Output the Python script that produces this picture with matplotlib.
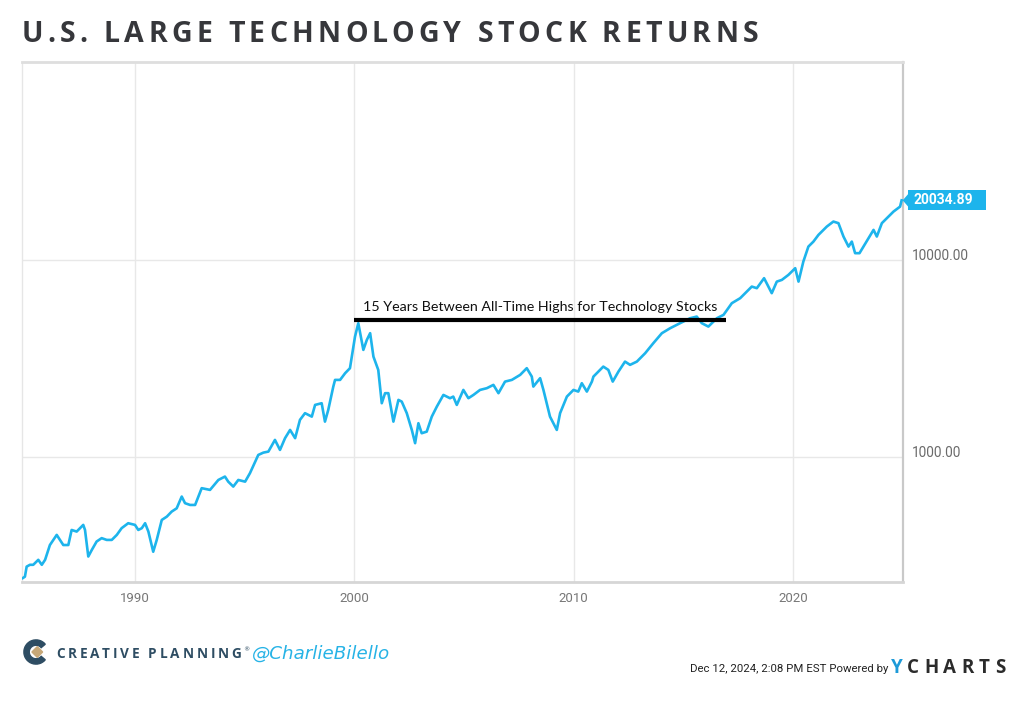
import matplotlib
matplotlib.use("Agg")
import matplotlib.pyplot as plt
import matplotlib.transforms as mtransforms
from matplotlib.font_manager import FontProperties
from matplotlib.patches import Wedge, Polygon, Rectangle
from matplotlib.ticker import NullLocator, FixedFormatter

# ---------------- data ----------------
title = "U.S. LARGE TECHNOLOGY STOCK RETURNS"

years = [1984.88, 1984.98, 1985.06, 1985.21, 1985.36, 1985.59, 1985.75, 1985.90, 1986.12, 1986.43,
         1986.58, 1986.73, 1986.96, 1987.11, 1987.34, 1987.64, 1987.72, 1987.87, 1988.03, 1988.25,
         1988.48, 1988.71, 1988.94, 1989.17, 1989.39, 1989.69, 1990.00, 1990.15, 1990.31, 1990.46,
         1990.61, 1990.83, 1990.99, 1991.22, 1991.45, 1991.67, 1991.90, 1992.13, 1992.28, 1992.51,
         1992.74, 1993.04, 1993.42, 1993.80, 1994.10, 1994.25, 1994.48, 1994.71, 1995.02, 1995.24,
         1995.62, 1995.85, 1996.08, 1996.38, 1996.61, 1996.84, 1997.07, 1997.30, 1997.52, 1997.75,
         1998.06, 1998.21, 1998.51, 1998.66, 1998.81, 1999.04, 1999.12, 1999.35, 1999.58, 1999.80,
         2000.03, 2000.18, 2000.41, 2000.57, 2000.72, 2000.87, 2001.09, 2001.25, 2001.40, 2001.55,
         2001.78, 2002.01, 2002.16, 2002.39, 2002.62, 2002.77, 2002.92, 2003.07, 2003.30, 2003.53,
         2003.76, 2004.06, 2004.36, 2004.51, 2004.67, 2004.97, 2005.20, 2005.43, 2005.73, 2006.04,
         2006.34, 2006.57, 2006.87, 2007.18, 2007.56, 2007.86, 2008.09, 2008.16, 2008.47, 2008.62,
         2008.92, 2009.23, 2009.38, 2009.69, 2009.99, 2010.21, 2010.37, 2010.60, 2010.83, 2010.90,
         2011.35, 2011.58, 2011.78, 2012.04, 2012.34, 2012.57, 2012.88, 2013.26, 2013.63, 2014.02,
         2014.40, 2014.85, 2015.31, 2015.61, 2015.84, 2016.14, 2016.53, 2016.83, 2017.21, 2017.59,
         2018.12, 2018.35, 2018.68, 2019.03, 2019.26, 2019.49, 2019.79, 2020.10, 2020.25, 2020.47,
         2020.70, 2020.93, 2021.16, 2021.54, 2021.84, 2022.07, 2022.30, 2022.53, 2022.68, 2022.83,
         2023.03, 2023.21, 2023.67, 2023.82, 2024.05, 2024.28, 2024.58, 2024.88, 2024.95]

values = [244, 248, 279, 285, 285, 302, 285, 302, 359, 404,
          381, 359, 359, 428, 420, 454, 428, 314, 339, 374,
          389, 381, 381, 404, 437, 463, 454, 428, 437, 463,
          420, 332, 381, 481, 500, 530, 551, 632, 585, 573,
          573, 697, 683, 767, 798, 752, 710, 767, 752, 830,
          1027, 1055, 1068, 1224, 1089, 1249, 1375, 1249, 1546, 1672,
          1606, 1841, 1878, 1515, 1737, 2280, 2465, 2465, 2666, 2826,
          4087, 4778, 3499, 3932, 4251, 3235, 2770, 1878, 2111, 2111,
          1515, 1952, 1914, 1672, 1375, 1178, 1487, 1323, 1348, 1606,
          1805, 2069, 1991, 2029, 1841, 2193, 1991, 2069, 2193, 2238,
          2326, 2111, 2417, 2465, 2614, 2826, 2562, 2280, 2515, 2193,
          1606, 1375, 1672, 2029, 2193, 2151, 2372, 2151, 2417, 2562,
          2879, 2770, 2417, 2716, 3052, 2938, 3052, 3367, 3783, 4251,
          4507, 4778, 5064, 5160, 4778, 4592, 5064, 5264, 6034, 6395,
          7323, 7187, 8078, 6781, 7762, 7917, 8395, 9077, 7762, 9804,
          11678, 12380, 13390, 14750, 15640, 15350, 13130, 11678, 12380, 10815,
          10815, 11678, 14190, 13130, 15350, 16270, 17570, 18620, 20034.89]

last_value = 20034.89
ann_text = "15 Years Between All-Time Highs for Technology Stocks"
ann_start = 2000.0
ann_end = 2016.94
ann_level = 4950

xticks = [1990, 2000, 2010, 2020]
xticklabels = ["1990", "2000", "2010", "2020"]
yticks = [1000, 10000]
yticklabels = ["1000.00", "10000.00"]

footer_date = "Dec 12, 2024, 2:08 PM EST Powered by"
brand = "CREATIVE PLANNING"
handle = "@CharlieBilello"

# ---------------- styling ----------------
W, H = 1024, 705
LINE = "#1db4ec"
fig = plt.figure(figsize=(W / 100, H / 100), dpi=100)
fig.patch.set_facecolor("white")
renderer = fig.canvas.get_renderer()

ax = fig.add_axes([21.7 / W, 1 - 581.7 / H, (902.7 - 21.7) / W, (581.7 - 61.7) / H])
ax.set_yscale("log")
ax.plot(years, values, color=LINE, lw=1.9, solid_joinstyle="round", zorder=3)
ax.set_xlim(1984.834, 2025.0)
ax.set_ylim(234, 101000)

ax.set_xticks(xticks)
ax.set_xticklabels(xticklabels)
ax.set_yticks(yticks)
ax.yaxis.set_major_formatter(FixedFormatter(yticklabels))
ax.yaxis.set_minor_locator(NullLocator())
ax.xaxis.set_minor_locator(NullLocator())
ax.yaxis.tick_right()
ax.tick_params(axis="x", length=0, pad=7.5, labelsize=9.5, labelcolor="#777777")
ax.tick_params(axis="y", length=0, pad=6.5, labelsize=9.8, labelcolor="#6a6a6a")
for lab in ax.get_xticklabels() + ax.get_yticklabels():
    lab.set_fontfamily("Roboto")
for lab in ax.get_yticklabels():
    lab.set_va("baseline")
ax.grid(True, which="major", color="#e8e8e8", lw=1.0, zorder=0)

for side, col, lw in [("top", "#dedede", 2.0), ("left", "#e6e6e6", 1.0),
                      ("right", "#c9c9c9", 1.6), ("bottom", "#d6d6d6", 2.0)]:
    ax.spines[side].set_color(col)
    ax.spines[side].set_linewidth(lw)

# annotation line + text
ax.hlines(ann_level, ann_start, ann_end, color="black", lw=3.0, zorder=4)
fp_ann = FontProperties(family="Lato", size=10)
w_ann = renderer.get_text_width_height_descent(ann_text, fp_ann, ismath=False)[0]
fp_ann.set_size(10 * 353.0 / w_ann)
ax.annotate(ann_text, xy=(ann_start, ann_level), xytext=(6.2, 6.5),
            textcoords="offset points", ha="left", va="baseline",
            fontproperties=fp_ann, color="#111111", zorder=5)

# last value tag: pointer + box (sized in inches, anchored at the last value), white text
tag_tr = ax.get_yaxis_transform()
anchor = fig.dpi_scale_trans + mtransforms.ScaledTranslation(1.0, last_value, tag_tr)
ax.add_patch(Polygon([(0.0, 0.0), (0.065, 0.075), (0.065, -0.075)], closed=True,
                     fc=LINE, ec="none", transform=anchor, clip_on=False, zorder=6))
ax.add_patch(Rectangle((0.056, -0.10), 0.774, 0.20, fc=LINE, ec="none",
                       transform=anchor, clip_on=False, zorder=6))
ax.annotate(f"{last_value:.2f}", xy=(1.0, last_value), xycoords=tag_tr,
            xytext=(8.1, 0), textcoords="offset points", ha="left", va="center",
            color="white", fontsize=10, fontweight="bold", family="Roboto",
            annotation_clip=False, zorder=7)


# ---------------- helpers for letter-spaced text ----------------
def text_w(s, fp):
    if not s:
        return 0.0
    return renderer.get_text_width_height_descent(s, fp, ismath=False)[0]


def tracked(text, x0, x1, y_base, fp, color):
    total = text_w(text, fp)
    n = len(text)
    track = (x1 - x0 - total) / (n - 1)
    for i, ch in enumerate(text):
        if ch == " ":
            continue
        xs = x0 + text_w(text[:i + 1], fp) - text_w(ch, fp) + i * track
        fig.text(xs / W, 1 - y_base / H, ch, fontproperties=fp, color=color,
                 ha="left", va="baseline")


def fitted(text, x0, x1, y_base, fp, color):
    w = text_w(text, fp)
    fp = fp.copy()
    fp.set_size(fp.get_size() * (x1 - x0) / w)
    fig.text(x0 / W, 1 - y_base / H, text, fontproperties=fp, color=color,
             ha="left", va="baseline")


# title
tracked(title, 22, 758, 41.7, FontProperties(family="Open Sans", weight="bold", size=20.5), "#36373b")

# Creative Planning logo
lax = fig.add_axes([22 / W, 1 - 666 / H, 28 / W, 28 / H])
lax.set_xlim(-1.1, 1.1)
lax.set_ylim(-1.1, 1.1)
lax.set_aspect("equal")
lax.axis("off")
lax.add_patch(Wedge((0, 0), 0.95, 40, 320, width=0.42, color="#2e4d63"))
lax.add_patch(Polygon([(0.1, 0.42), (0.52, 0.0), (0.1, -0.42), (-0.32, 0.0)],
                      closed=True, color="#c7a878"))
tracked(brand, 56.5, 241.5, 657.5, FontProperties(family="Open Sans", weight="bold", size=9.8), "#2e4d63")
fig.text(243 / W, 1 - 651 / H, "®", fontsize=4.5, color="#2e4d63", ha="left", va="baseline")
fitted(handle, 252, 390, 658.5, FontProperties(family="DejaVu Sans", style="oblique", size=12), "#27b3e6")

# footer right
fitted(footer_date, 690, 887, 671.5, FontProperties(family="Roboto", size=8), "#222222")
fp_y = FontProperties(family="Open Sans", weight="bold", size=13.5)
fig.text(891 / W, 1 - 673 / H, "Y", fontproperties=fp_y, color="#1d9ad8", ha="left", va="baseline")
tracked("CHARTS", 907, 1005, 673, fp_y, "#2b2b2b")

fig.savefig("out.png", dpi=100, facecolor="white")
